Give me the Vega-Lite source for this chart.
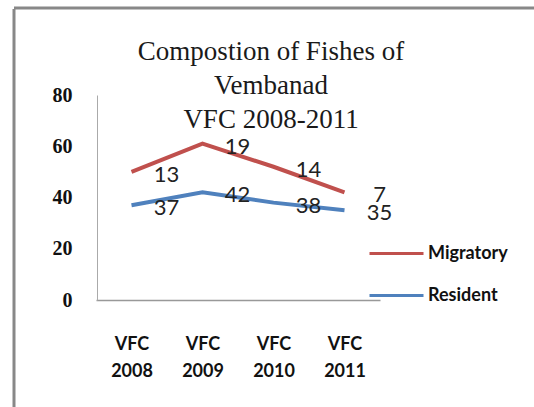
{
  "$schema": "https://vega.github.io/schema/vega-lite/v6.json",
  "width": 520,
  "height": 399,
  "autosize": {"type": "none"},
  "padding": {"left": 14, "top": 8, "right": 0, "bottom": 0},
  "background": "white",
  "title": {
    "text": ["Compostion of  Fishes of", "Vembanad", "VFC 2008-2011"],
    "font": "Liberation Serif",
    "fontSize": 27,
    "fontWeight": "normal",
    "color": "#1a1a1a",
    "lineHeight": 34,
    "anchor": "middle",
    "frame": "group",
    "baseline": "top",
    "offset": 0,
    "dx": -3,
    "dy": 126
  },
  "data": {
    "values": [
      {"year": "VFC 2008", "series": "Resident", "value": 37},
      {"year": "VFC 2009", "series": "Resident", "value": 42},
      {"year": "VFC 2010", "series": "Resident", "value": 38},
      {"year": "VFC 2011", "series": "Resident", "value": 35},
      {"year": "VFC 2008", "series": "Migratory", "value": 13},
      {"year": "VFC 2009", "series": "Migratory", "value": 19},
      {"year": "VFC 2010", "series": "Migratory", "value": 14},
      {"year": "VFC 2011", "series": "Migratory", "value": 7}
    ]
  },
  "transform": [
    {"stack": "value", "groupby": ["year"], "sort": [{"field": "series", "order": "descending"}], "as": ["v0", "v1"]}
  ],
  "encoding": {
    "x": {
      "field": "year",
      "type": "ordinal",
      "scale": {"type": "point", "range": [82, 366], "padding": 0.5},
      "axis": {
        "orient": "bottom",
        "offset": -107,
        "title": null,
        "labelAngle": 0,
        "ticks": false,
        "domainColor": "#999999",
        "domainWidth": 1.5,
        "labelFont": "Lato",
        "labelFontWeight": "bold",
        "labelFontSize": 18,
        "labelColor": "#111111",
        "labelPadding": 35,
        "labelLineHeight": 27,
        "labelExpr": "split(datum.label, ' ')"
      }
    },
    "y": {
      "field": "v1",
      "type": "quantitative",
      "scale": {"domain": [0, 80], "range": [292, 87], "nice": false, "zero": true},
      "axis": {
        "orient": "left",
        "offset": -83,
        "title": null,
        "values": [0, 20, 40, 60, 80],
        "grid": false,
        "ticks": false,
        "domainColor": "#aaaaaa",
        "domainWidth": 1,
        "labelFont": "Liberation Serif",
        "labelFontWeight": "bold",
        "labelFontSize": 20,
        "labelColor": "#111111",
        "labelPadding": 25
      }
    }
  },
  "layer": [
    {
      "mark": {"type": "line", "strokeWidth": 4},
      "encoding": {
        "color": {
          "field": "series",
          "type": "nominal",
          "scale": {"domain": ["Migratory", "Resident"], "range": ["#C0504D", "#4F81BD"]},
          "legend": {
            "orient": "none",
            "legendX": 354,
            "legendY": 217,
            "title": null,
            "padding": 0,
            "symbolType": "stroke",
            "symbolSize": 2916,
            "symbolStrokeWidth": 3,
            "labelFont": "Lato",
            "labelFontWeight": "bold",
            "labelFontSize": 18,
            "labelColor": "#111111",
            "labelOffset": 3,
            "rowPadding": 4
          }
        }
      }
    },
    {
      "mark": {"type": "text", "font": "Lato", "fontSize": 22, "color": "#222222", "dx": 35, "dy": 3},
      "encoding": {
        "text": {"field": "value", "type": "quantitative"}
      }
    }
  ],
  "config": {
    "view": {"stroke": "#888888", "strokeWidth": 3, "strokeDash": [520, 919, 398, 1]}
  }
}
